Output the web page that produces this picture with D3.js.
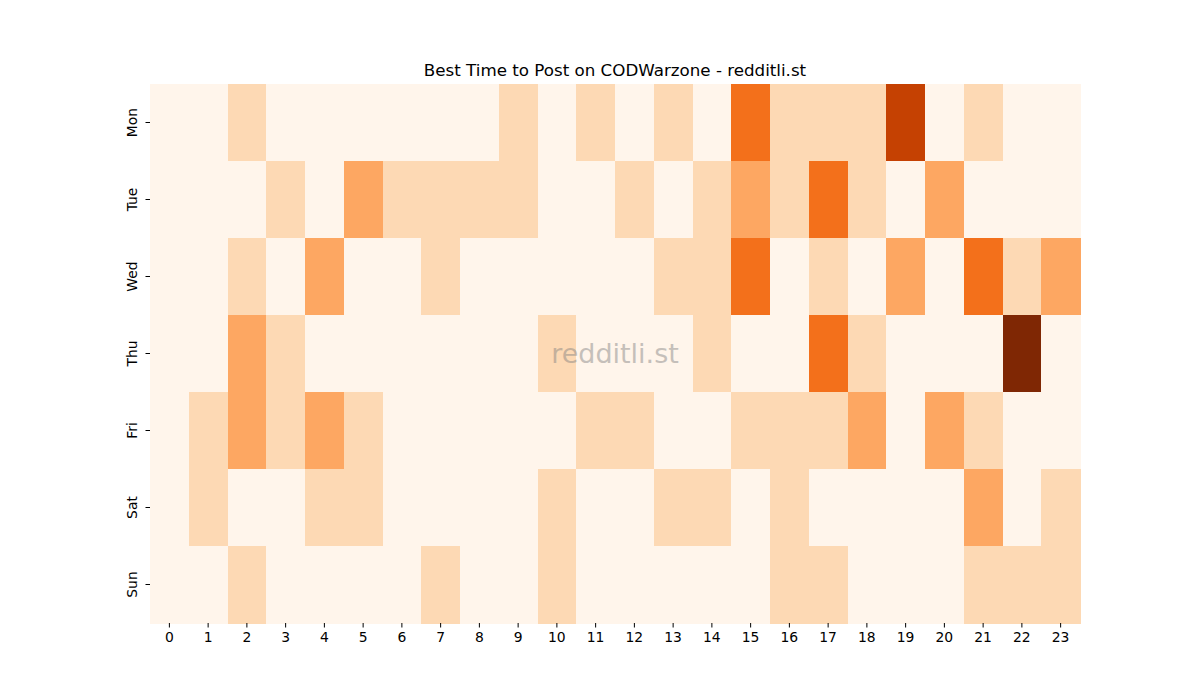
<!DOCTYPE html>
<html>
<head>
<meta charset="utf-8">
<script src="https://cdn.jsdelivr.net/npm/d3@7"></script>
<style>
  body { margin: 0; background: #fff; }
  text { font-family: "DejaVu Sans", sans-serif; }
</style>
</head>
<body>
<svg id="chart"></svg>
<script>
var width = 1200, height = 700
var margin = {top: 84, right: 120, bottom: 77, left: 150}

// days (rows) and hours (columns)
const days = ["Mon", "Tue", "Wed", "Thu", "Fri", "Sat", "Sun"]
const hours = d3.range(0, 24)

// post counts per hour, one array per day
const mon = [0,0,1,0,0,0,0,0,0,1,0,1,0,1,0,3,1,1,1,4,0,1,0,0]
const tue = [0,0,0,1,0,2,1,1,1,1,0,0,1,0,1,2,1,3,1,0,2,0,0,0]
const wed = [0,0,1,0,2,0,0,1,0,0,0,0,0,1,1,3,0,1,0,2,0,3,1,2]
const thu = [0,0,2,1,0,0,0,0,0,0,1,0,0,0,1,0,0,3,1,0,0,0,5,0]
const fri = [0,1,2,1,2,1,0,0,0,0,0,1,1,0,0,1,1,1,2,0,2,1,0,0]
const sat = [0,1,0,0,1,1,0,0,0,0,1,0,0,1,1,0,1,0,0,0,0,2,0,1]
const sun = [0,0,1,0,0,0,0,1,0,0,1,0,0,0,0,0,1,1,0,0,0,1,1,1]
const counts = [mon, tue, wed, thu, fri, sat, sun]

// matplotlib "Oranges" stops
const oranges = ["#fff5eb","#fee6ce","#fdd0a2","#fdae6b","#fd8d3c","#f16913","#d94801","#a63603","#7f2704"]

var svg = d3.select("#chart").attr("width", width).attr("height", height)

var cells = []
counts.forEach((row, i) => {
    row.forEach((v, j) => { cells.push({day: days[i], hour: hours[j], value: v}) })
})

var x = d3.scaleBand().domain(hours).range([margin.left, width - margin.right])
var y = d3.scaleBand().domain(days).range([margin.top, height - margin.bottom])

var maxV = d3.max(cells, d => d.value)
var color = d3.scaleLinear()
    .domain(oranges.map((c, i) => i / (oranges.length - 1) * maxV))
    .range(oranges)
    .interpolate(d3.interpolateRgb)

// Draw the cells
svg.append("g")
    .selectAll("rect")
    .data(cells)
    .enter()
    .append("rect")
    .attr("x", d => x(d.hour))
    .attr("y", d => y(d.day))
    .attr("width", x.bandwidth() + 0.5)
    .attr("height", y.bandwidth() + 0.5)
    .attr("shape-rendering", "crispEdges")
    .style("fill", d => color(d.value))

// Axes
var xAxis = svg.append("g")
    .attr("transform", "translate(0," + (height - margin.bottom) + ")")
    .call(d3.axisBottom(x).tickSizeOuter(0).tickSize(4.5).tickPadding(5))
xAxis.select(".domain").remove()
xAxis.selectAll("text").style("font-size", "13.9px").attr("fill", "#000")

var yAxis = svg.append("g")
    .attr("transform", "translate(" + margin.left + ",0)")
    .call(d3.axisLeft(y).tickSizeOuter(0).tickSize(4.5).tickPadding(5))
yAxis.select(".domain").remove()
yAxis.selectAll("text")
    .style("font-size", "13.9px")
    .attr("fill", "#000")
    .attr("text-anchor", "middle")
    .attr("dy", "0")
    .attr("x", 0)
    .attr("transform", "translate(-13,0) rotate(-90)")

// Title
svg.append("text")
    .attr("x", (margin.left + width - margin.right) / 2)
    .attr("y", 76)
    .attr("text-anchor", "middle")
    .style("font-size", "16.7px")
    .text("Best Time to Post on CODWarzone - redditli.st")

// Watermark
svg.append("text")
    .attr("x", (margin.left + width - margin.right) / 2)
    .attr("y", 363)
    .attr("text-anchor", "middle")
    .style("font-size", "27px")
    .style("fill", "#808080")
    .style("opacity", 0.45)
    .text("redditli.st")
</script>
</body>
</html>
